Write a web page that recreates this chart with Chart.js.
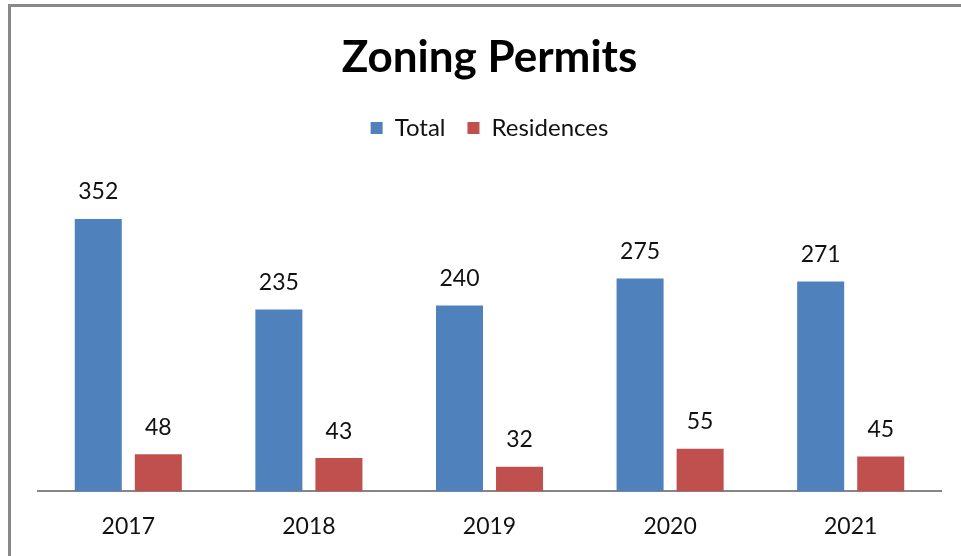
<!DOCTYPE html>
<html>
<head>
<meta charset="utf-8">
<script src="https://cdn.jsdelivr.net/npm/chart.js@4/dist/chart.umd.min.js"></script>
<style>
  html, body { margin: 0; padding: 0; background: #fff; }
  #wrap { position: relative; width: 961px; height: 556px; }
  #frame { position: absolute; left: 8px; top: 4px; width: 990px; height: 600px;
           border-left: 3px solid #898989; border-top: 3px solid #898989; box-sizing: border-box; pointer-events: none; }
  canvas { position: absolute; left: 0; top: 0; }
</style>
</head>
<body>
<div id="wrap">
  <canvas id="c" width="961" height="556"></canvas>
  <div id="frame"></div>
</div>
<script>
const years = ["2017", "2018", "2019", "2020", "2021"];
const totalPermits = [352, 235, 240, 275, 271];
const residencePermits = [48, 43, 32, 55, 45];
const seriesNames = ["Total", "Residences"];
const chartTitle = "Zoning Permits";

const FONT = "Lato, 'Open Sans', sans-serif";

const valueLabels = {
  id: 'valueLabels',
  afterDatasetsDraw(chart) {
    const ctx = chart.ctx;
    ctx.save();
    ctx.font = "23px " + FONT;
    ctx.fillStyle = "#111";
    ctx.textAlign = "center";
    ctx.textBaseline = "middle";
    chart.data.datasets.forEach((ds, di) => {
      const meta = chart.getDatasetMeta(di);
      meta.data.forEach((bar, i) => {
        ctx.fillText(String(ds.data[i]), bar.x, bar.y - 27);
      });
    });
    ctx.restore();
  }
};

new Chart(document.getElementById('c'), {
  type: 'bar',
  data: {
    labels: years,
    datasets: [
      { label: seriesNames[0], data: totalPermits, backgroundColor: '#4F81BD', borderWidth: 0 },
      { label: seriesNames[1], data: residencePermits, backgroundColor: '#C0504D', borderWidth: 0 }
    ]
  },
  options: {
    responsive: false,
    animation: false,
    events: [],
    layout: { padding: { left: 38, right: 20, top: 10, bottom: -5 } },
    datasets: { bar: { categoryPercentage: 0.665, barPercentage: 0.783 } },
    plugins: {
      title: {
        display: true, text: chartTitle, color: '#000',
        font: { family: FONT, size: 44, weight: 'bold' },
        padding: { top: 21.6, bottom: 9.6 }
      },
      legend: {
        display: true, position: 'top',
        labels: {
          color: '#111', boxWidth: 12, boxHeight: 12, padding: 22,
          font: { family: FONT, size: 24 }
        }
      },
      tooltip: { enabled: false }
    },
    scales: {
      x: {
        grid: { display: false, drawTicks: false },
        border: { display: true, color: '#868686', width: 2 },
        ticks: { color: '#111', font: { family: FONT, size: 23 }, padding: 21 }
      },
      y: {
        display: false, min: 0, max: 441
      }
    }
  },
  plugins: [valueLabels]
});
</script>
</body>
</html>
